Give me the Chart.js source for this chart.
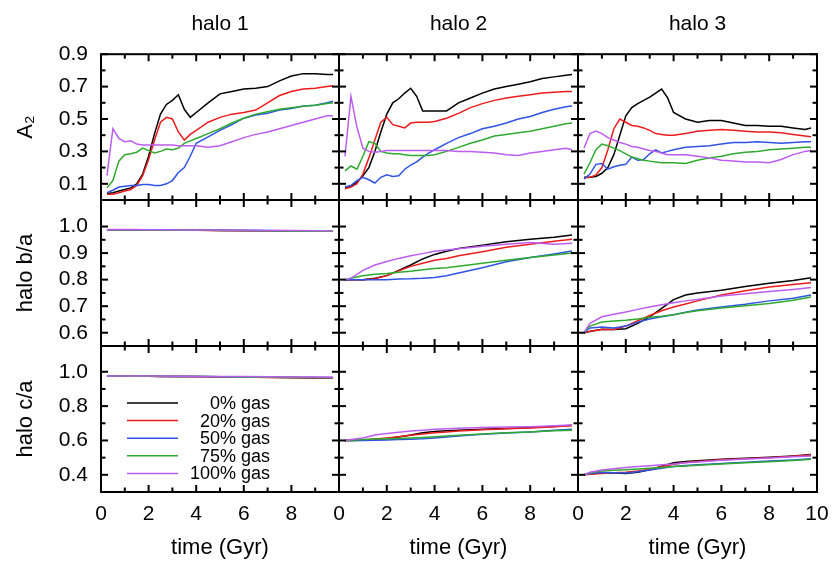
<!DOCTYPE html>
<html>
<head>
<meta charset="utf-8">
<script src="https://cdn.jsdelivr.net/npm/chart.js@4"></script>
<style>
  body { margin: 0; background: #fff; }
  #fig { position: relative; width: 833px; height: 561px; overflow: hidden; }
  #fig canvas { position: absolute; }
</style>
</head>
<body>
<div id="fig"></div>
<script>
// time grids (Gyr)
const timeA = [0.25, 0.5, 0.75, 1, 1.25, 1.5, 1.75, 2, 2.25, 2.5, 2.75, 3, 3.25, 3.5, 3.75, 4, 4.5, 5, 5.5, 6, 6.5, 7, 7.5, 8, 8.5, 9, 9.5, 9.75];
const timeB = [0.25, 0.5, 1, 1.5, 2, 2.5, 3, 3.5, 4, 4.5, 5, 6, 7, 8, 9, 9.75];

const gasLabels = ['0% gas', '20% gas', '50% gas', '75% gas', '100% gas'];
const gasColors = ['#000000', '#ee1c1c', '#2f53e6', '#2eab2e', '#bd5cf0'];
const haloTitles = ['halo 1', 'halo 2', 'halo 3'];

// axis ticks
const timeTicks = [0, 1, 2, 3, 4, 5, 6, 7, 8, 9, 10];
const timeLabels = [0, 2, 4, 6, 8];
const timeLabelsLast = [0, 2, 4, 6, 8, 10];
const a2Ticks = [0.1, 0.2, 0.3, 0.4, 0.5, 0.6, 0.7, 0.8, 0.9];
const a2Labels = [0.1, 0.3, 0.5, 0.7, 0.9];
const baTicks = [0.6, 0.65, 0.7, 0.75, 0.8, 0.85, 0.9, 0.95, 1.0];
const baLabels = [0.6, 0.7, 0.8, 0.9, 1.0];
const caTicks = [0.4, 0.5, 0.6, 0.7, 0.8, 0.9, 1.0];
const caLabels = [0.4, 0.6, 0.8, 1.0];

// bar strength A2 (on timeA), order: 0%, 20%, 50%, 75%, 100% gas
const halo1A2 = [
  [0.04, 0.045, 0.055, 0.065, 0.075, 0.10, 0.16, 0.27, 0.41, 0.53, 0.59, 0.615, 0.65, 0.56, 0.51, 0.54, 0.60, 0.655, 0.67, 0.685, 0.69, 0.70, 0.735, 0.765, 0.78, 0.78, 0.775, 0.775],
  [0.035, 0.035, 0.045, 0.055, 0.065, 0.09, 0.15, 0.25, 0.37, 0.48, 0.51, 0.50, 0.42, 0.37, 0.405, 0.43, 0.48, 0.51, 0.53, 0.54, 0.555, 0.60, 0.645, 0.67, 0.685, 0.69, 0.70, 0.705],
  [0.045, 0.06, 0.08, 0.085, 0.09, 0.09, 0.095, 0.095, 0.09, 0.09, 0.10, 0.12, 0.17, 0.20, 0.27, 0.35, 0.39, 0.43, 0.465, 0.505, 0.525, 0.535, 0.555, 0.565, 0.58, 0.585, 0.60, 0.61],
  [0.075, 0.12, 0.24, 0.28, 0.285, 0.295, 0.32, 0.305, 0.29, 0.30, 0.315, 0.31, 0.32, 0.35, 0.365, 0.38, 0.41, 0.44, 0.475, 0.505, 0.53, 0.545, 0.56, 0.57, 0.578, 0.585, 0.595, 0.60],
  [0.15, 0.44, 0.38, 0.36, 0.365, 0.345, 0.34, 0.34, 0.34, 0.34, 0.34, 0.34, 0.335, 0.335, 0.335, 0.335, 0.325, 0.335, 0.36, 0.385, 0.405, 0.42, 0.44, 0.46, 0.48, 0.50, 0.52, 0.52]
];
const halo2A2 = [
  [0.075, 0.085, 0.11, 0.15, 0.20, 0.30, 0.42, 0.53, 0.60, 0.625, 0.66, 0.69, 0.64, 0.55, 0.55, 0.55, 0.55, 0.60, 0.63, 0.66, 0.685, 0.70, 0.715, 0.73, 0.75, 0.76, 0.77, 0.775],
  [0.07, 0.08, 0.10, 0.16, 0.26, 0.37, 0.48, 0.51, 0.465, 0.455, 0.445, 0.475, 0.48, 0.48, 0.48, 0.485, 0.505, 0.535, 0.57, 0.595, 0.615, 0.63, 0.64, 0.65, 0.66, 0.665, 0.67, 0.67],
  [0.08, 0.09, 0.12, 0.14, 0.125, 0.105, 0.14, 0.155, 0.145, 0.15, 0.19, 0.215, 0.235, 0.265, 0.29, 0.31, 0.35, 0.385, 0.41, 0.44, 0.455, 0.475, 0.50, 0.515, 0.54, 0.56, 0.575, 0.58],
  [0.18, 0.21, 0.19, 0.27, 0.36, 0.35, 0.30, 0.29, 0.285, 0.285, 0.28, 0.275, 0.275, 0.275, 0.275, 0.28, 0.30, 0.325, 0.35, 0.37, 0.395, 0.405, 0.415, 0.425, 0.44, 0.455, 0.47, 0.475],
  [0.27, 0.64, 0.45, 0.32, 0.30, 0.295, 0.30, 0.305, 0.305, 0.305, 0.305, 0.305, 0.305, 0.305, 0.305, 0.305, 0.305, 0.30, 0.30, 0.295, 0.29, 0.28, 0.275, 0.29, 0.30, 0.31, 0.32, 0.31]
];
const halo3A2 = [
  [0.14, 0.14, 0.145, 0.165, 0.20, 0.28, 0.40, 0.52, 0.57, 0.595, 0.615, 0.635, 0.66, 0.685, 0.63, 0.54, 0.50, 0.48, 0.49, 0.49, 0.475, 0.46, 0.46, 0.455, 0.455, 0.445, 0.435, 0.445],
  [0.135, 0.14, 0.155, 0.20, 0.31, 0.44, 0.50, 0.48, 0.46, 0.455, 0.445, 0.43, 0.41, 0.405, 0.40, 0.40, 0.41, 0.425, 0.43, 0.435, 0.43, 0.425, 0.42, 0.42, 0.415, 0.405, 0.395, 0.39],
  [0.13, 0.16, 0.22, 0.225, 0.19, 0.205, 0.215, 0.22, 0.265, 0.245, 0.25, 0.285, 0.31, 0.29, 0.30, 0.31, 0.325, 0.33, 0.335, 0.345, 0.355, 0.355, 0.36, 0.355, 0.35, 0.355, 0.36, 0.36],
  [0.16, 0.23, 0.31, 0.345, 0.335, 0.32, 0.305, 0.285, 0.265, 0.255, 0.245, 0.24, 0.235, 0.23, 0.23, 0.23, 0.225, 0.245, 0.26, 0.27, 0.285, 0.295, 0.30, 0.31, 0.315, 0.32, 0.325, 0.325],
  [0.32, 0.41, 0.425, 0.41, 0.385, 0.37, 0.355, 0.345, 0.33, 0.325, 0.315, 0.305, 0.30, 0.29, 0.28, 0.28, 0.28, 0.27, 0.26, 0.245, 0.24, 0.235, 0.235, 0.23, 0.25, 0.28, 0.30, 0.305]
];

// halo b/a (on timeB)
const halo1BA = [
  [0.988, 0.988, 0.988, 0.988, 0.987, 0.987, 0.987, 0.986, 0.986, 0.986, 0.985, 0.985, 0.984, 0.984, 0.983, 0.983],
  [0.988, 0.988, 0.988, 0.987, 0.987, 0.987, 0.986, 0.986, 0.986, 0.985, 0.985, 0.984, 0.984, 0.983, 0.983, 0.982],
  [0.988, 0.988, 0.988, 0.988, 0.988, 0.987, 0.987, 0.987, 0.986, 0.986, 0.986, 0.985, 0.985, 0.984, 0.984, 0.984],
  [0.988, 0.988, 0.988, 0.988, 0.987, 0.987, 0.987, 0.986, 0.986, 0.986, 0.985, 0.985, 0.984, 0.983, 0.982, 0.982],
  [0.989, 0.989, 0.989, 0.989, 0.988, 0.988, 0.988, 0.987, 0.987, 0.987, 0.986, 0.986, 0.985, 0.985, 0.984, 0.984]
];
const halo2BA = [
  [0.80, 0.80, 0.80, 0.805, 0.815, 0.835, 0.855, 0.878, 0.895, 0.907, 0.917, 0.93, 0.943, 0.952, 0.96, 0.968],
  [0.80, 0.80, 0.80, 0.803, 0.815, 0.833, 0.85, 0.862, 0.873, 0.88, 0.89, 0.905, 0.922, 0.933, 0.945, 0.952],
  [0.80, 0.80, 0.80, 0.80, 0.80, 0.802, 0.803, 0.805, 0.808, 0.815, 0.825, 0.845, 0.867, 0.883, 0.897, 0.908],
  [0.80, 0.805, 0.815, 0.82, 0.823, 0.828, 0.832, 0.837, 0.842, 0.845, 0.85, 0.862, 0.873, 0.883, 0.893, 0.90],
  [0.80, 0.805, 0.835, 0.855, 0.868, 0.88, 0.89, 0.898, 0.907, 0.912, 0.916, 0.926, 0.933, 0.94, 0.933, 0.937]
];
const halo3BA = [
  [0.60, 0.605, 0.613, 0.612, 0.615, 0.635, 0.66, 0.692, 0.725, 0.742, 0.75, 0.76, 0.774, 0.786, 0.797, 0.807],
  [0.60, 0.606, 0.612, 0.612, 0.625, 0.645, 0.665, 0.683, 0.697, 0.708, 0.72, 0.742, 0.758, 0.772, 0.782, 0.788],
  [0.60, 0.618, 0.622, 0.618, 0.625, 0.64, 0.652, 0.66, 0.668, 0.677, 0.686, 0.697, 0.707, 0.72, 0.73, 0.742],
  [0.60, 0.625, 0.64, 0.644, 0.647, 0.652, 0.658, 0.662, 0.668, 0.676, 0.683, 0.693, 0.702, 0.71, 0.722, 0.735],
  [0.60, 0.635, 0.66, 0.67, 0.678, 0.688, 0.697, 0.705, 0.713, 0.72, 0.725, 0.738, 0.747, 0.755, 0.763, 0.77]
];

// halo c/a (on timeB)
const halo1CA = [
  [0.975, 0.975, 0.975, 0.974, 0.974, 0.973, 0.973, 0.972, 0.972, 0.971, 0.971, 0.970, 0.968, 0.966, 0.964, 0.963],
  [0.975, 0.975, 0.975, 0.974, 0.974, 0.973, 0.973, 0.972, 0.971, 0.971, 0.970, 0.969, 0.967, 0.965, 0.963, 0.962],
  [0.975, 0.975, 0.975, 0.975, 0.974, 0.974, 0.973, 0.973, 0.972, 0.972, 0.971, 0.970, 0.969, 0.968, 0.967, 0.966],
  [0.975, 0.975, 0.975, 0.974, 0.974, 0.974, 0.973, 0.973, 0.972, 0.972, 0.971, 0.970, 0.968, 0.967, 0.966, 0.965],
  [0.976, 0.976, 0.976, 0.975, 0.975, 0.975, 0.974, 0.974, 0.973, 0.973, 0.972, 0.972, 0.971, 0.970, 0.969, 0.968]
];
const halo2CA = [
  [0.60, 0.60, 0.602, 0.606, 0.612, 0.62, 0.632, 0.645, 0.652, 0.656, 0.66, 0.665, 0.67, 0.675, 0.682, 0.688],
  [0.60, 0.60, 0.603, 0.608, 0.615, 0.622, 0.63, 0.638, 0.645, 0.65, 0.655, 0.662, 0.668, 0.673, 0.68, 0.685],
  [0.60, 0.60, 0.60, 0.601, 0.603, 0.605, 0.607, 0.61, 0.615, 0.62, 0.626, 0.636, 0.643, 0.65, 0.66, 0.665],
  [0.60, 0.602, 0.605, 0.608, 0.61, 0.612, 0.615, 0.618, 0.622, 0.626, 0.63, 0.638, 0.645, 0.65, 0.656, 0.66],
  [0.60, 0.605, 0.615, 0.632, 0.64, 0.648, 0.655, 0.66, 0.665, 0.668, 0.671, 0.675, 0.678, 0.68, 0.685, 0.69]
];
const halo3CA = [
  [0.40, 0.405, 0.412, 0.41, 0.408, 0.415, 0.43, 0.45, 0.47, 0.477, 0.482, 0.49, 0.496, 0.502, 0.51, 0.518],
  [0.40, 0.403, 0.408, 0.412, 0.415, 0.422, 0.432, 0.447, 0.462, 0.472, 0.478, 0.488, 0.494, 0.50, 0.508, 0.515],
  [0.40, 0.408, 0.414, 0.412, 0.41, 0.418, 0.428, 0.438, 0.448, 0.454, 0.458, 0.466, 0.473, 0.48, 0.487, 0.493],
  [0.40, 0.412, 0.422, 0.426, 0.43, 0.434, 0.438, 0.443, 0.448, 0.452, 0.456, 0.463, 0.47, 0.476, 0.484, 0.49],
  [0.40, 0.415, 0.428, 0.435, 0.442, 0.448, 0.453, 0.458, 0.463, 0.47, 0.475, 0.485, 0.492, 0.498, 0.505, 0.51]
];

const rowAxes = [
  { title: 'A\u2082', min: 0, max: 0.9, ticks: a2Ticks, labels: a2Labels },
  { title: 'halo b/a', min: 0.55, max: 1.1, ticks: baTicks, labels: baLabels },
  { title: 'halo c/a', min: 0.3, max: 1.15, ticks: caTicks, labels: caLabels }
];
const panelValues = [
  [halo1A2, halo2A2, halo3A2],
  [halo1BA, halo2BA, halo3BA],
  [halo1CA, halo2CA, halo3CA]
];
const panelTimes = [timeA, timeB, timeB];

// plot-area edges on the page
const colX = [101, 339, 578, 817];
const rowY = [54, 200, 346, 492];
const MARGIN = 30;
const FONT = "'Liberation Sans', Arial, Helvetica, sans-serif";

Chart.defaults.font.family = FONT;
Chart.defaults.color = '#000';

function isIn(v, list) {
  return list.some(l => Math.abs(l - v) < 1e-6);
}

// gnuplot-like frame with inward tick marks on all four sides
function makeFrame(xTicks, xMajor, yTicks, yMajor) {
  return {
    id: 'frameTicks',
    afterDraw(chart) {
      const ctx = chart.ctx;
      const a = chart.chartArea;
      const xs = chart.scales.x;
      const ys = chart.scales.y;
      ctx.save();
      ctx.fillStyle = '#000';
      for (const v of xTicks) {
        const px = xs.getPixelForValue(v);
        const len = isIn(v, xMajor) ? 7 : 4.5;
        ctx.fillRect(px - 1, a.bottom - len, 2, len);
        ctx.fillRect(px - 1, a.top, 2, len);
      }
      for (const v of yTicks) {
        const py = ys.getPixelForValue(v);
        const len = isIn(v, yMajor) ? 7 : 4.5;
        ctx.fillRect(a.left, py - 1, len, 2);
        ctx.fillRect(a.right - len, py - 1, len, 2);
      }
      ctx.strokeStyle = '#000';
      ctx.lineWidth = 2;
      ctx.strokeRect(a.left, a.top, a.right - a.left, a.bottom - a.top);
      ctx.restore();
    }
  };
}

// key with line sample on the left and right-aligned text
function makeKey(show) {
  return {
    id: 'gasKey',
    afterDatasetsDraw(chart) {
      if (!show) return;
      const { ctx, chartArea: a } = chart;
      ctx.save();
      ctx.font = '18px ' + FONT;
      ctx.textAlign = 'right';
      ctx.textBaseline = 'middle';
      ctx.fillStyle = '#000';
      chart.data.datasets.forEach((ds, i) => {
        const yy = a.top + 57 + i * 17.6;
        ctx.strokeStyle = ds.borderColor;
        ctx.lineWidth = 1.5;
        ctx.beginPath();
        ctx.moveTo(a.left + 26, yy);
        ctx.lineTo(a.left + 77, yy);
        ctx.stroke();
        ctx.fillText(ds.label, a.left + 169, yy + 1);
      });
      ctx.restore();
    }
  };
}

const fig = document.getElementById('fig');

for (let r = 0; r < 3; r++) {
  for (let c = 0; c < 3; c++) {
    const left = c === 0 ? 0 : colX[c] - MARGIN;
    const right = colX[c + 1] + MARGIN;
    const top = r === 0 ? 0 : rowY[r] - MARGIN;
    const bottom = r === 2 ? 561 : rowY[r + 1] + MARGIN;

    const cv = document.createElement('canvas');
    cv.width = right - left;
    cv.height = bottom - top;
    cv.style.left = left + 'px';
    cv.style.top = top + 'px';
    fig.appendChild(cv);

    const ax = rowAxes[r];
    const time = panelTimes[r];
    const xLabels = c === 2 ? timeLabelsLast : timeLabels;

    new Chart(cv, {
      type: 'line',
      data: {
        datasets: panelValues[r][c].map((vals, i) => ({
          label: gasLabels[i],
          data: time.map((t, k) => ({ x: t, y: vals[k] })),
          borderColor: gasColors[i],
          borderWidth: 1.5,
          pointRadius: 0,
          order: 4 - i
        }))
      },
      options: {
        responsive: false,
        animation: false,
        devicePixelRatio: 1,
        events: [],
        layout: {
          padding: {
            left: c === 0 ? 0 : MARGIN,
            right: MARGIN,
            top: r === 0 ? 0 : MARGIN,
            bottom: r === 2 ? 0 : MARGIN
          }
        },
        scales: {
          x: {
            type: 'linear',
            min: 0,
            max: 10,
            display: r === 2,
            grid: { display: false, drawTicks: false },
            border: { display: false },
            afterBuildTicks: s => { s.ticks = timeTicks.map(v => ({ value: v })); },
            afterFit: r === 2 ? s => { s.height = 561 - rowY[3]; } : undefined,
            ticks: {
              autoSkip: false,
              maxRotation: 0,
              padding: 10,
              font: { size: 21 },
              color: '#000',
              callback: v => isIn(v, xLabels) ? String(v) : ''
            },
            title: { display: true, text: 'time (Gyr)', font: { size: 22 }, color: '#000', padding: { top: 0, bottom: 0 } }
          },
          y: {
            type: 'linear',
            min: ax.min,
            max: ax.max,
            display: c === 0,
            grid: { display: false, drawTicks: false },
            border: { display: false },
            afterBuildTicks: s => { s.ticks = ax.ticks.map(v => ({ value: v })); },
            afterFit: c === 0 ? s => { s.width = colX[0]; } : undefined,
            ticks: {
              autoSkip: false,
              padding: 13,
              font: { size: 21 },
              color: '#000',
              callback: v => isIn(v, ax.labels) ? v.toFixed(1) : ''
            },
            title: { display: true, text: ax.title, font: { size: 22 }, color: '#000', padding: { top: 13, bottom: 0 } }
          }
        },
        plugins: {
          legend: { display: false },
          tooltip: { enabled: false },
          title: {
            display: r === 0,
            text: haloTitles[c],
            fullSize: false,
            font: { size: 21, weight: 'normal' },
            color: '#000',
            padding: { top: 12, bottom: 17 }
          }
        }
      },
      plugins: [makeFrame(timeTicks, xLabels, ax.ticks, ax.labels), makeKey(r === 2 && c === 0)]
    });
  }
}
</script>
</body>
</html>
